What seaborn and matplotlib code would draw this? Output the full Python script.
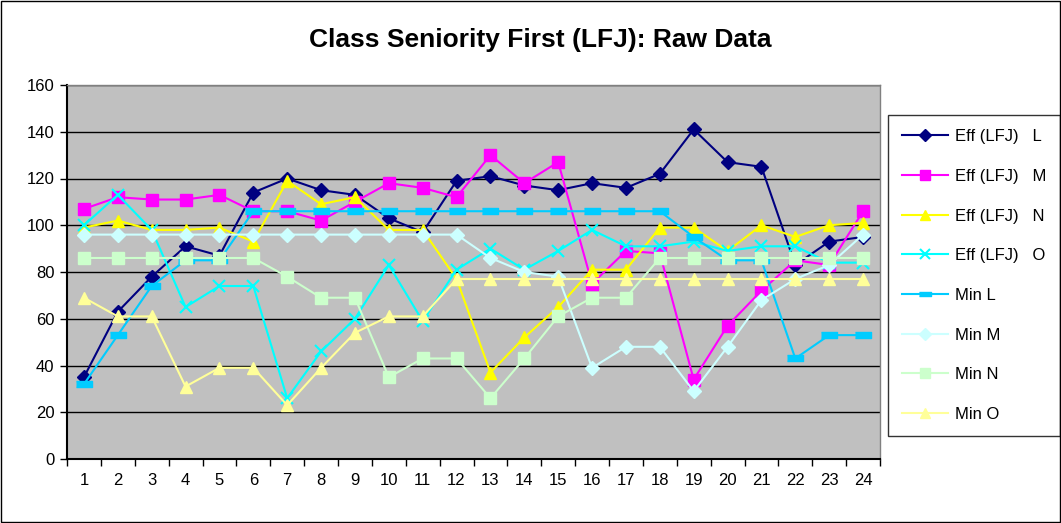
import numpy as np
import pandas as pd
import matplotlib
matplotlib.use('Agg')
import matplotlib.pyplot as plt
import seaborn as sns
from matplotlib.patches import Rectangle
from matplotlib.ticker import MultipleLocator

periods = list(range(1, 25))

eff_l = [35, 63, 78, 91, 87, 114, 120, 115, 113, 103, 97, 119, 121, 117, 115, 118, 116, 122, 141, 127, 125, 83, 93, 95]
eff_m = [107, 112, 111, 111, 113, 106, 106, 102, 110, 118, 116, 112, 130, 118, 127, 75, 89, 88, 34, 57, 72, 85, 83, 106]
eff_n = [99, 102, 98, 98, 99, 93, 119, 109, 112, 98, 98, 77, 37, 52, 65, 81, 81, 99, 99, 89, 100, 95, 100, 101]
eff_o = [100, 113, 98, 65, 74, 74, 26, 46, 60, 83, 59, 81, 90, 81, 89, 98, 91, 91, 93, 89, 91, 91, 84, 84]
min_l = [32, 53, 74, 85, 85, 106, 106, 106, 106, 106, 106, 106, 106, 106, 106, 106, 106, 106, 95, 85, 85, 43, 53, 53]
min_m = [96, 96, 96, 96, 96, 96, 96, 96, 96, 96, 96, 96, 86, 80, 78, 39, 48, 48, 29, 48, 68, 77, 83, 96]
min_n = [86, 86, 86, 86, 86, 86, 78, 69, 69, 35, 43, 43, 26, 43, 61, 69, 69, 86, 86, 86, 86, 86, 86, 86]
min_o = [69, 61, 61, 31, 39, 39, 23, 39, 54, 61, 61, 77, 77, 77, 77, 77, 77, 77, 77, 77, 77, 77, 77, 77]

labels = ["Eff (LFJ)   L", "Eff (LFJ)   M", "Eff (LFJ)   N", "Eff (LFJ)   O",
          "Min L", "Min M", "Min N", "Min O"]
values = [eff_l, eff_m, eff_n, eff_o, min_l, min_m, min_n, min_o]

bar_marker = [(-1.0, -0.35), (1.0, -0.35), (1.0, 0.35), (-1.0, 0.35)]
styles = [
    dict(color='#000080', marker='D', ms=7),
    dict(color='#FF00FF', marker='s', ms=9),
    dict(color='#FFFF00', marker='^', ms=9),
    dict(color='#00FFFF', marker='x', ms=9, mew=1.5),
    dict(color='#00CCFF', marker=bar_marker, ms=11),
    dict(color='#CCFFFF', marker='D', ms=7),
    dict(color='#CCFFCC', marker='s', ms=9),
    dict(color='#FFFF99', marker='^', ms=9),
]

df = pd.DataFrame({'period': periods})
for lab, vals in zip(labels, values):
    df[lab] = vals

plt.rcParams['font.family'] = ['Liberation Sans', 'DejaVu Sans']

fig = plt.figure(figsize=(10.61, 5.23), dpi=100)
ax = fig.add_axes([67 / 1061, 1 - 459 / 523, 813 / 1061, 374 / 523])
ax.set_facecolor('#C0C0C0')

for lab, st in zip(labels, styles):
    kw = dict(st)
    col = kw.pop('color')
    sns.lineplot(data=df, x='period', y=lab, ax=ax, color=col, lw=1.5,
                 marker=kw.pop('marker'), markersize=kw.pop('ms'),
                 markeredgecolor=col, markerfacecolor=col,
                 markeredgewidth=kw.pop('mew', 1.0), label=lab)

ax.set_xlim(0.5, 24.5)
ax.set_ylim(0, 160)
ax.yaxis.set_major_locator(MultipleLocator(20))
ax.set_xticks(periods)
ax.set_xticklabels([str(p) for p in periods])
ax.set_xticks(np.arange(0.5, 25, 1), minor=True)
ax.tick_params(axis='x', which='major', length=0, labelsize=12, pad=10)
ax.tick_params(axis='x', which='minor', length=5, width=1, color='black')
ax.tick_params(axis='y', which='major', length=5, width=1, labelsize=12, pad=4)
ax.grid(axis='y', color='black', lw=1)
ax.set_axisbelow(True)
ax.set_xlabel('')
ax.set_ylabel('')
for side in ['top', 'right']:
    ax.spines[side].set_color('#808080')
    ax.spines[side].set_linewidth(1)
for side in ['left', 'bottom']:
    ax.spines[side].set_color('black')
    ax.spines[side].set_linewidth(1.5)

fig.text(540 / 1061, 1 - 40 / 523, 'Class Seniority First (LFJ): Raw Data',
         ha='center', va='center', fontsize=19, fontweight='bold')

leg = ax.legend(loc='upper left', bbox_to_anchor=(888 / 1061, 1 - 115 / 523),
                bbox_transform=fig.transFigure, frameon=True, fancybox=False,
                edgecolor='black', fontsize=12, handlelength=2.75,
                labelspacing=1.48, borderpad=0.85, handletextpad=0.4,
                borderaxespad=0)
leg.get_frame().set_linewidth(1)
for h in leg.legend_handles:
    h.set_markersize(h.get_markersize() * 0.85)

fig.patches.append(Rectangle((0.001, 0.002), 0.998, 0.996, transform=fig.transFigure,
                             fill=False, edgecolor='black', lw=1))

plt.savefig('out.png', dpi=100)
plt.close()
